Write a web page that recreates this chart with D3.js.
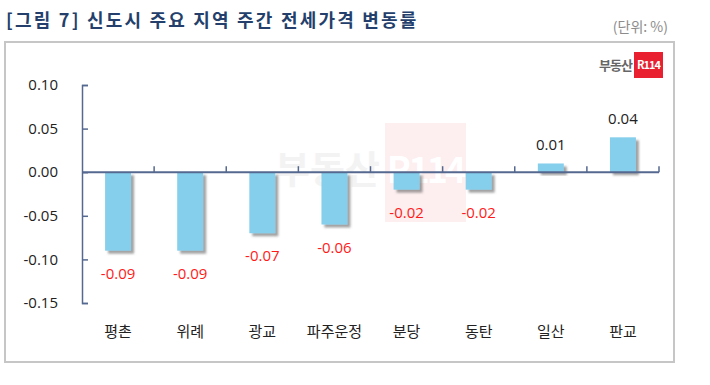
<!DOCTYPE html>
<html>
<head>
<meta charset="utf-8">
<script src="https://cdn.jsdelivr.net/npm/d3@7"></script>
<style>
  body { margin: 0; background: #fff; }
  svg { display: block; }
  text { font-family: "Noto Sans CJK KR", "Noto Sans", sans-serif; }
  .num { font-family: "Open Sans", "Noto Sans", sans-serif; }
</style>
</head>
<body>
<div id="chart"></div>
<script>
let regions = ['평촌', '위례', '광교', '파주운정', '분당', '동탄', '일산', '판교'];
let changes = [-0.09, -0.09, -0.07, -0.06, -0.02, -0.02, 0.01, 0.04];
let yTicks = [0.10, 0.05, 0.00, -0.05, -0.10, -0.15];

let titleText = '[그림 7] 신도시 주요 지역 주간 전세가격 변동률';
let unitText = '(단위: %)';

// plain hyphen minus like the original
let fmt = d => d3.format('.2f')(d).replace('\u2212', '-');

let svg = d3.select('#chart')
    .append('svg')
    .attr('width', 710)
    .attr('height', 385);

let defs = svg.append('defs');
defs.append('filter')
    .attr('id', 'barShadow')
    .attr('x', '-20%').attr('y', '-20%')
    .attr('width', '160%').attr('height', '160%')
    .append('feDropShadow')
    .attr('dx', 3)
    .attr('dy', 3)
    .attr('stdDeviation', 1.3)
    .attr('flood-color', '#555')
    .attr('flood-opacity', 0.55);

// title + unit
svg.append('text')
    .text(titleText)
    .attr('x', 6)
    .attr('y', 27)
    .attr('fill', '#243f6b')
    .style('font-weight', 'bold')
    .style('font-size', '18px')
    .style('letter-spacing', '2.2px');

svg.append('text')
    .text(unitText)
    .attr('x', 668)
    .attr('y', 32)
    .attr('text-anchor', 'end')
    .attr('fill', '#8c8c8c')
    .style('font-size', '14px');

// frame
svg.append('rect')
    .attr('x', 5)
    .attr('y', 42)
    .attr('width', 669)
    .attr('height', 320)
    .attr('fill', 'white')
    .attr('stroke', '#c6c6c6')
    .attr('stroke-width', 2);

// logo top right
svg.append('text')
    .text('부동산')
    .attr('x', 632)
    .attr('y', 70)
    .attr('text-anchor', 'end')
    .attr('fill', '#666')
    .style('font-size', '13px')
    .style('font-weight', 'bold')
    .style('letter-spacing', '-1px');

svg.append('rect')
    .attr('x', 634)
    .attr('y', 52)
    .attr('width', 29)
    .attr('height', 26)
    .attr('fill', '#e8202f');

svg.append('text')
    .text('R114')
    .attr('x', 648.5)
    .attr('y', 69)
    .attr('text-anchor', 'middle')
    .attr('fill', 'white')
    .style('font-size', '11px')
    .style('font-weight', 'bold')
    .style('letter-spacing', '-1px');

// watermark
svg.append('rect')
    .attr('x', 385)
    .attr('y', 123)
    .attr('width', 81)
    .attr('height', 99)
    .attr('fill', '#fdeeef');

svg.append('text')
    .text('부동산')
    .attr('x', 380)
    .attr('y', 183)
    .attr('text-anchor', 'end')
    .attr('fill', '#f3f3f3')
    .style('font-size', '38px')
    .style('font-weight', 'bold');

svg.append('text')
    .text('R114')
    .attr('x', 425)
    .attr('y', 183)
    .attr('text-anchor', 'middle')
    .attr('fill', '#ffffff')
    .style('font-size', '36px')
    .style('font-weight', 'bold')
    .style('letter-spacing', '-3px');

// scales
let xScale = d3.scaleBand()
    .domain(regions)
    .range([82, 659])
    .paddingInner(0.64)
    .paddingOuter(0.32);

let yScale = d3.scaleLinear()
    .domain([-0.15, 0.10])
    .range([303, 85]);

let axisColor = '#55688f';

// bars
svg.append('g')
    .selectAll('rect')
    .data(changes)
    .enter()
    .append('rect')
    .attr('x', (d, i) => xScale(regions[i]))
    .attr('y', d => yScale(Math.max(0, d)))
    .attr('width', xScale.bandwidth())
    .attr('height', d => Math.abs(yScale(d) - yScale(0)))
    .attr('fill', '#86cfec')
    .attr('filter', 'url(#barShadow)');

// y axis
let yAxis = d3.axisRight(yScale)
    .tickValues(yTicks)
    .tickSize(6)
    .tickFormat('');

let yG = svg.append('g')
    .attr('transform', 'translate(82,0)')
    .call(yAxis);
yG.select('.domain').attr('stroke', axisColor).attr('stroke-width', 1.5);
yG.selectAll('.tick line').attr('stroke', axisColor).attr('stroke-width', 1.5);

svg.append('g')
    .selectAll('text')
    .data(yTicks)
    .enter()
    .append('text')
    .attr('class', 'num')
    .text(fmt)
    .attr('x', 58)
    .attr('y', d => yScale(d))
    .attr('dy', '0.35em')
    .attr('text-anchor', 'end')
    .attr('fill', '#222')
    .style('font-size', '15px');

// x axis at zero, ticks at band boundaries
let bandStep = xScale.step();
let boundaries = d3.range(regions.length + 1).map(i => 82 + i * bandStep);

let xG = svg.append('g');
xG.append('line')
    .attr('x1', 82)
    .attr('x2', 659)
    .attr('y1', yScale(0))
    .attr('y2', yScale(0))
    .attr('stroke', axisColor)
    .attr('stroke-width', 2);
xG.selectAll('.xtick')
    .data(boundaries.slice(1))
    .enter()
    .append('line')
    .attr('class', 'xtick')
    .attr('x1', d => d)
    .attr('x2', d => d)
    .attr('y1', yScale(0))
    .attr('y2', yScale(0) - 6)
    .attr('stroke', axisColor)
    .attr('stroke-width', 1.5);

// value labels
svg.append('g')
    .selectAll('text')
    .data(changes)
    .enter()
    .append('text')
    .attr('class', 'num')
    .text(fmt)
    .attr('x', (d, i) => xScale(regions[i]) + xScale.bandwidth() / 2)
    .attr('y', d => d < 0 ? yScale(d) + 23 : yScale(d) - 19)
    .attr('dy', '0.35em')
    .attr('text-anchor', 'middle')
    .attr('fill', d => d < 0 ? '#ff1a1a' : '#222')
    .style('font-size', '15px');

// category labels
svg.append('g')
    .selectAll('text')
    .data(regions)
    .enter()
    .append('text')
    .text(d => d)
    .attr('x', d => xScale(d) + xScale.bandwidth() / 2)
    .attr('y', 332)
    .attr('dy', '0.35em')
    .attr('text-anchor', 'middle')
    .attr('fill', '#222')
    .style('font-size', '15px');
</script>
</body>
</html>
